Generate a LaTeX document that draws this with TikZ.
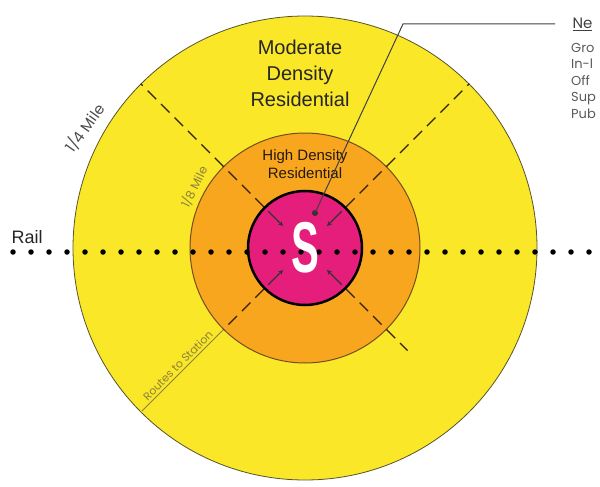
\documentclass[tikz,border=0pt]{standalone}
\usepackage{fontspec}
\setmainfont{Liberation Sans}
\newfontfamily\gothic{Poppins}
\usetikzlibrary{positioning}

\definecolor{yellowfill}{RGB}{249,231,40}
\definecolor{orangefill}{RGB}{247,166,30}
\definecolor{pinkfill}{RGB}{228,30,122}
\definecolor{olivetext}{RGB}{140,128,60}

\begin{document}
\begin{tikzpicture}[
  x=1pt, y=-1pt,
  ring/.style={draw, circle, inner sep=0pt},
  spoke/.style={draw=black!75!brown, line width=1.4pt, dash pattern=on 12pt off 7pt},
  inward/.style={draw=black!80, line width=1.1pt, -stealth},
  rail/.style={line width=5.5pt, line cap=round, dash pattern=on 0pt off 18pt},
  smalltext/.style={font=\gothic\fontsize{11}{16}\selectfont, text=black!65},
]

\useasboundingbox (0,0) rectangle (600,487);

% the walking rings
\node (quarter) [ring, fill=yellowfill, draw=olive!50!black, line width=0.8pt, minimum size=464pt] at (305,248) {};
\node (eighth) [ring, fill=orangefill, draw=brown!60!black, line width=1pt, minimum size=230pt] at (305,248) {};

\draw[spoke] (eighth.135) -- (quarter.135);
\draw[spoke] (eighth.45) -- (quarter.45);
\draw[spoke] (eighth.-45) -- ([shift={(-45:145pt)}]eighth.center);

\node (station) [ring, fill=pinkfill, draw=black, line width=2.5pt, minimum size=114pt] at (305,248) {};

\foreach \a in {45,135,225,315}
  \draw[spoke] (station.\a) -- (eighth.\a);
\foreach \a in {45,135,225,315}
  \draw[inward] ([shift={(\a:52pt)}]station.center) -- ([shift={(\a:31pt)}]station.center);

% rail line
\coordinate (railwest) at (13,252);
\coordinate (raileast) at (600,252);
\draw[rail] (railwest) -- (raileast);
\node (rail) [anchor=base west, font=\fontsize{18}{20}\selectfont, text=black!85] at (8,243) {Rail};

\node (s) [font=\bfseries\fontsize{72}{72}\selectfont, text=white, xscale=0.58] at (station.center) {S};

% labels
\node (moderate) [align=center, font=\fontsize{20}{26}\selectfont, text=black!85] at (300,73) {Moderate\\Density\\Residential};
\node (high) [align=center, font=\fontsize{15}{18}\selectfont, text=black!80!brown] at (305,164) {High Density\\Residential};

\node (qmile) [smalltext, font=\gothic\fontsize{15}{16}\selectfont, text=black!70, rotate=55] at (85,128) {1/4 Mile};
\node (emile) [smalltext, font=\gothic\fontsize{12}{14}\selectfont, text=olivetext, rotate=64] at (194,187) {1/8 Mile};

\coordinate (routeend) at (142,411);
\draw[olivetext, line width=0.8pt] (eighth.-135) -- node[sloped, above=-1pt, smalltext, text=olivetext, font=\gothic\fontsize{11}{12}\selectfont] (route) {Routes to Station} (routeend);

% callout to the station
\coordinate (hub) at ([shift={(10pt,35pt)}]station.center);
\coordinate (kink) at (403,24);
\coordinate (tail) at (555,24);
\fill[black!80] (hub) circle (3pt);
\draw[black!75, line width=1pt] (hub) -- (kink) -- (tail);

\node (head) [anchor=base west, font=\gothic\fontsize{15}{16}\selectfont, text=black!75] at (569,29) {\underline{Ne}};
\node (uses) [anchor=north west, align=left, inner sep=0pt, smalltext, font=\gothic\fontsize{13}{16.5}\selectfont] at (571,43)
  {Gro\\In-l\\Off\\Sup\\Pub};

\end{tikzpicture}
\end{document}
